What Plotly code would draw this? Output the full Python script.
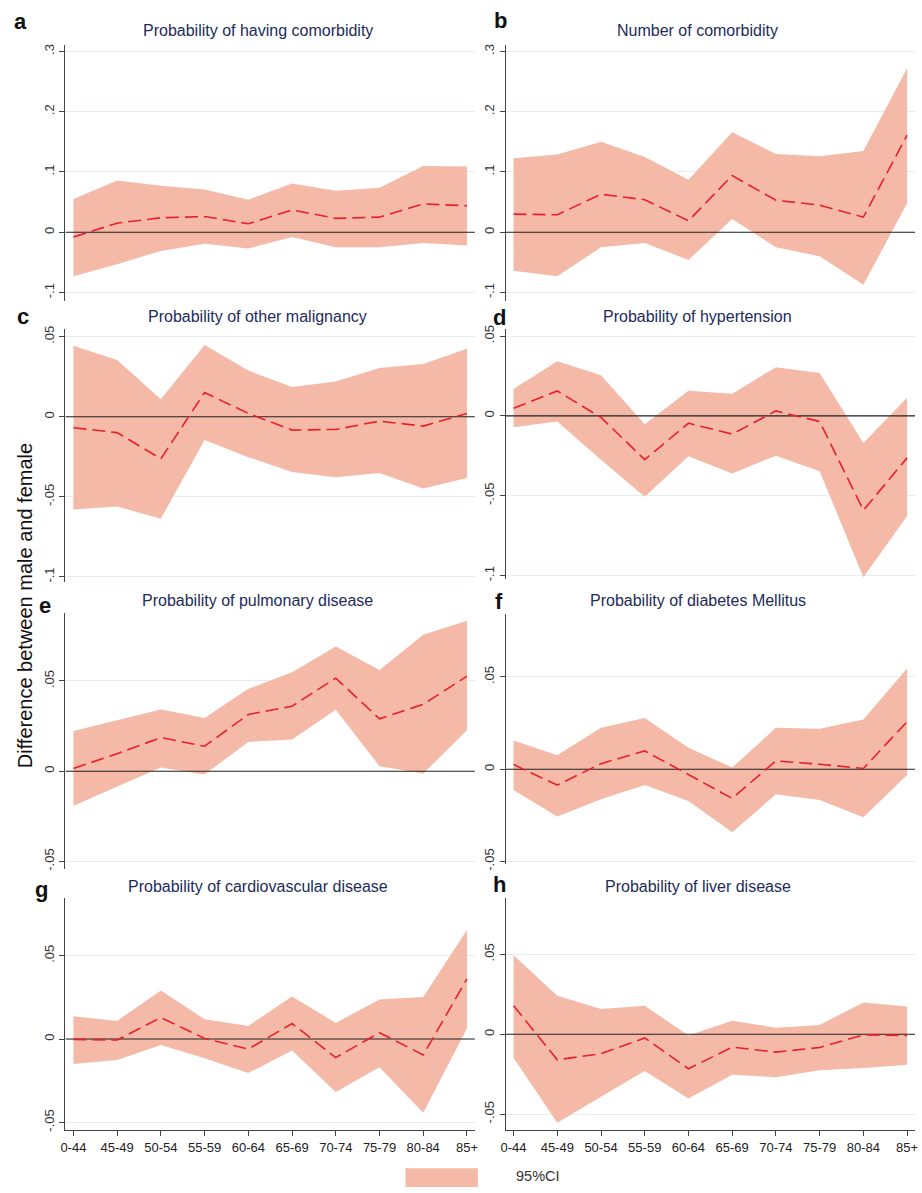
import plotly.graph_objects as go

# ---------------- data ----------------
AGE_GROUPS = ["0-44", "45-49", "50-54", "55-59", "60-64", "65-69", "70-74", "75-79", "80-84", "85+"]

a_mean = [-0.008, 0.015, 0.024, 0.026, 0.014, 0.037, 0.023, 0.025, 0.047, 0.044]
a_upper = [0.055, 0.086, 0.077, 0.071, 0.054, 0.081, 0.069, 0.074, 0.110, 0.109]
a_lower = [-0.073, -0.053, -0.031, -0.019, -0.027, -0.008, -0.025, -0.025, -0.018, -0.022]

b_mean = [0.030, 0.029, 0.063, 0.054, 0.019, 0.094, 0.053, 0.045, 0.025, 0.161]
b_upper = [0.123, 0.129, 0.150, 0.125, 0.087, 0.166, 0.130, 0.126, 0.135, 0.272]
b_lower = [-0.064, -0.073, -0.025, -0.018, -0.046, 0.022, -0.025, -0.040, -0.087, 0.048]

c_mean = [-0.0068, -0.0099, -0.0262, 0.0151, 0.0021, -0.0083, -0.0079, -0.0027, -0.0058, 0.0021]
c_upper = [0.0444, 0.0355, 0.0110, 0.0448, 0.0289, 0.0186, 0.0221, 0.0304, 0.0329, 0.0424]
c_lower = [-0.0579, -0.0560, -0.0636, -0.0145, -0.0252, -0.0345, -0.0378, -0.0351, -0.0448, -0.0382]

d_mean = [0.0048, 0.0156, -0.0010, -0.0274, -0.0046, -0.0114, 0.0031, -0.0035, -0.0591, -0.0263]
d_upper = [0.0168, 0.0342, 0.0255, -0.0052, 0.0158, 0.0139, 0.0305, 0.0268, -0.0170, 0.0114]
d_lower = [-0.0071, -0.0035, -0.0274, -0.0506, -0.0253, -0.0361, -0.0249, -0.0347, -0.1010, -0.0627]

e_mean = [0.0015, 0.0097, 0.0186, 0.0138, 0.0314, 0.0360, 0.0515, 0.0290, 0.0370, 0.0526]
e_upper = [0.0222, 0.0281, 0.0342, 0.0294, 0.0456, 0.0548, 0.0691, 0.0561, 0.0756, 0.0833]
e_lower = [-0.0191, -0.0086, 0.0020, -0.0018, 0.0162, 0.0176, 0.0340, 0.0028, -0.0013, 0.0226]

f_mean = [0.0025, -0.0086, 0.0030, 0.0099, -0.0029, -0.0158, 0.0045, 0.0027, 0.0004, 0.0258]
f_upper = [0.0156, 0.0075, 0.0224, 0.0278, 0.0116, 0.0009, 0.0224, 0.0219, 0.0269, 0.0545]
f_lower = [-0.0113, -0.0256, -0.0163, -0.0086, -0.0172, -0.0341, -0.0136, -0.0167, -0.0260, -0.0032]

g_mean = [-0.0002, -0.0006, 0.0129, 0.0004, -0.0060, 0.0093, -0.0111, 0.0038, -0.0095, 0.0361]
g_upper = [0.0137, 0.0109, 0.0292, 0.0119, 0.0079, 0.0256, 0.0097, 0.0238, 0.0252, 0.0655]
g_lower = [-0.0149, -0.0125, -0.0036, -0.0115, -0.0204, -0.0069, -0.0317, -0.0169, -0.0442, 0.0063]

h_mean = [0.0178, -0.0160, -0.0122, -0.0023, -0.0216, -0.0081, -0.0112, -0.0083, -0.0004, -0.0008]
h_upper = [0.0494, 0.0241, 0.0158, 0.0178, -0.0008, 0.0085, 0.0041, 0.0058, 0.0199, 0.0174]
h_lower = [-0.0147, -0.0554, -0.0392, -0.0230, -0.0402, -0.0253, -0.0270, -0.0226, -0.0212, -0.0191]

TITLES = [
    "Probability of having comorbidity", "Number of comorbidity",
    "Probability of other malignancy", "Probability of hypertension",
    "Probability of pulmonary disease", "Probability of diabetes Mellitus",
    "Probability of cardiovascular disease", "Probability of liver disease",
]
LETTERS = ["a", "b", "c", "d", "e", "f", "g", "h"]

TICKS_AB = [-0.1, 0, 0.1, 0.2, 0.3]
TICKTEXT_AB = ["-.1", "0", ".1", ".2", ".3"]
TICKS_CD = [-0.1, -0.05, 0, 0.05]
TICKTEXT_CD = ["-.1", "-.05", "0", ".05"]
TICKS_EH = [-0.05, 0, 0.05, 0.1]
TICKTEXT_EH = ["-.05", "0", ".05", ".1"]

LEGEND_LABEL = "95%CI"
YAXIS_TITLE = "Difference between male and female"

# ---------------- styling / layout ----------------
W, H = 922, 1193
FILL = "rgb(245,185,167)"
LINE = "#e8202a"
GRID = "#e4eef1"
AXIS = "#444444"
TITLE_COLOR = "#1d2b5c"
FONT = "Liberation Sans, Arial, sans-serif"


def px(x):
    return x / W


def py(y):
    return 1 - y / H


LEFT = (61, 474)
RIGHT = (505, 918)
panels = [
    (a_mean, a_upper, a_lower, LEFT, (42, 300), (-0.1137, 0.3113), TICKS_AB, TICKTEXT_AB, (255, 28), (16, 19)),
    (b_mean, b_upper, b_lower, RIGHT, (42, 300), (-0.1137, 0.3113), TICKS_AB, TICKTEXT_AB, (699, 28), (500, 18)),
    (c_mean, c_upper, c_lower, LEFT, (328, 583), (-0.1029, 0.0551), TICKS_CD, TICKTEXT_CD, (255, 316), (18, 316)),
    (d_mean, d_upper, d_lower, RIGHT, (328, 580), (-0.1019, 0.0547), TICKS_CD, TICKTEXT_CD, (699, 316), (499, 317)),
    (e_mean, e_upper, e_lower, LEFT, (615, 873), (-0.0544, 0.0874), TICKS_EH, TICKTEXT_EH, (255, 602), (40, 607)),
    (f_mean, f_upper, f_lower, RIGHT, (616, 868), (-0.0516, 0.0839), TICKS_EH, TICKTEXT_EH, (699, 602), (498, 603)),
    (g_mean, g_upper, g_lower, LEFT, (902, 1136), (-0.0548, 0.0845), TICKS_EH, TICKTEXT_EH, (255, 890), (37, 893)),
    (h_mean, h_upper, h_lower, RIGHT, (902, 1136), (-0.0602, 0.0851), TICKS_EH, TICKTEXT_EH, (699, 890), (499, 888)),
]

XPAD = 8 / 44.1
XRANGE = [-XPAD, len(AGE_GROUPS) - 1 + XPAD]
xs = list(range(len(AGE_GROUPS)))

fig = go.Figure()
annotations = []

for i, (mean, upper, lower, xd, yd, yr, tv, tt, tpos, lpos) in enumerate(panels):
    n = i + 1
    xa = "x" if n == 1 else f"x{n}"
    ya = "y" if n == 1 else f"y{n}"
    fig.add_trace(go.Scatter(x=xs, y=lower, xaxis=xa, yaxis=ya, mode="lines",
                             line=dict(width=0, color=FILL), showlegend=False, hoverinfo="skip"))
    fig.add_trace(go.Scatter(x=xs, y=upper, xaxis=xa, yaxis=ya, mode="lines", fill="tonexty",
                             fillcolor=FILL, line=dict(width=0, color=FILL),
                             name=LEGEND_LABEL, showlegend=False))
    fig.add_trace(go.Scatter(x=XRANGE, y=[0, 0], xaxis=xa, yaxis=ya, mode="lines",
                             line=dict(width=1.1, color="#222222"), showlegend=False, hoverinfo="skip"))
    fig.add_trace(go.Scatter(x=xs, y=mean, xaxis=xa, yaxis=ya, mode="lines",
                             line=dict(width=1.6, color=LINE, dash="13px,6px"), showlegend=False))

    bottom_row = n in (7, 8)
    xkey = "xaxis" if n == 1 else f"xaxis{n}"
    ykey = "yaxis" if n == 1 else f"yaxis{n}"
    fig.layout[xkey] = dict(
        domain=[px(xd[0]), px(xd[1])], range=XRANGE, anchor=ya,
        showgrid=False, zeroline=False,
        showline=bottom_row, linecolor=AXIS, linewidth=1,
        ticks="outside" if bottom_row else "", ticklen=5, tickcolor=AXIS,
        tickvals=xs, ticktext=AGE_GROUPS, showticklabels=bottom_row,
        tickfont=dict(size=13, color="#222222", family=FONT),
    )
    fig.layout[ykey] = dict(
        domain=[py(yd[1]), py(yd[0])], range=list(yr), anchor=xa,
        showgrid=True, gridcolor=GRID, gridwidth=1, zeroline=False,
        showline=True, linecolor=AXIS, linewidth=1,
        ticks="outside", ticklen=5, tickcolor=AXIS,
        tickvals=tv, ticktext=tt, tickangle=-90,
        tickfont=dict(size=13, color="#333333", family=FONT),
    )
    annotations.append(dict(text=TITLES[i], x=px(tpos[0]), y=py(tpos[1]), xref="paper", yref="paper",
                            xanchor="center", yanchor="middle", showarrow=False,
                            font=dict(size=16, color=TITLE_COLOR, family=FONT)))
    annotations.append(dict(text="<b>" + LETTERS[i] + "</b>", x=px(lpos[0]), y=py(lpos[1]),
                            xref="paper", yref="paper", xanchor="center", yanchor="middle",
                            showarrow=False, font=dict(size=22, color="#111111", family=FONT)))

annotations.append(dict(text=YAXIS_TITLE, x=px(21), y=py(607), xref="paper", yref="paper",
                        xanchor="center", yanchor="middle", textangle=-90, showarrow=False,
                        font=dict(size=20, color="#111111", family=FONT)))
annotations.append(dict(text=LEGEND_LABEL, x=px(513), y=py(1182), xref="paper", yref="paper",
                        xanchor="left", yanchor="middle", showarrow=False,
                        font=dict(size=14.5, color="#333333", family=FONT)))

fig.update_layout(
    width=W, height=H, margin=dict(l=0, r=0, t=0, b=0),
    paper_bgcolor="white", plot_bgcolor="white",
    showlegend=False, annotations=annotations,
    shapes=[dict(type="rect", xref="paper", yref="paper",
                 x0=px(404), x1=px(477), y0=py(1193), y1=py(1174),
                 fillcolor=FILL, line=dict(width=0))],
    font=dict(family=FONT),
)

fig.write_html("out.html", config={"displayModeBar": False},
               post_script="document.body.style.margin='0';")
